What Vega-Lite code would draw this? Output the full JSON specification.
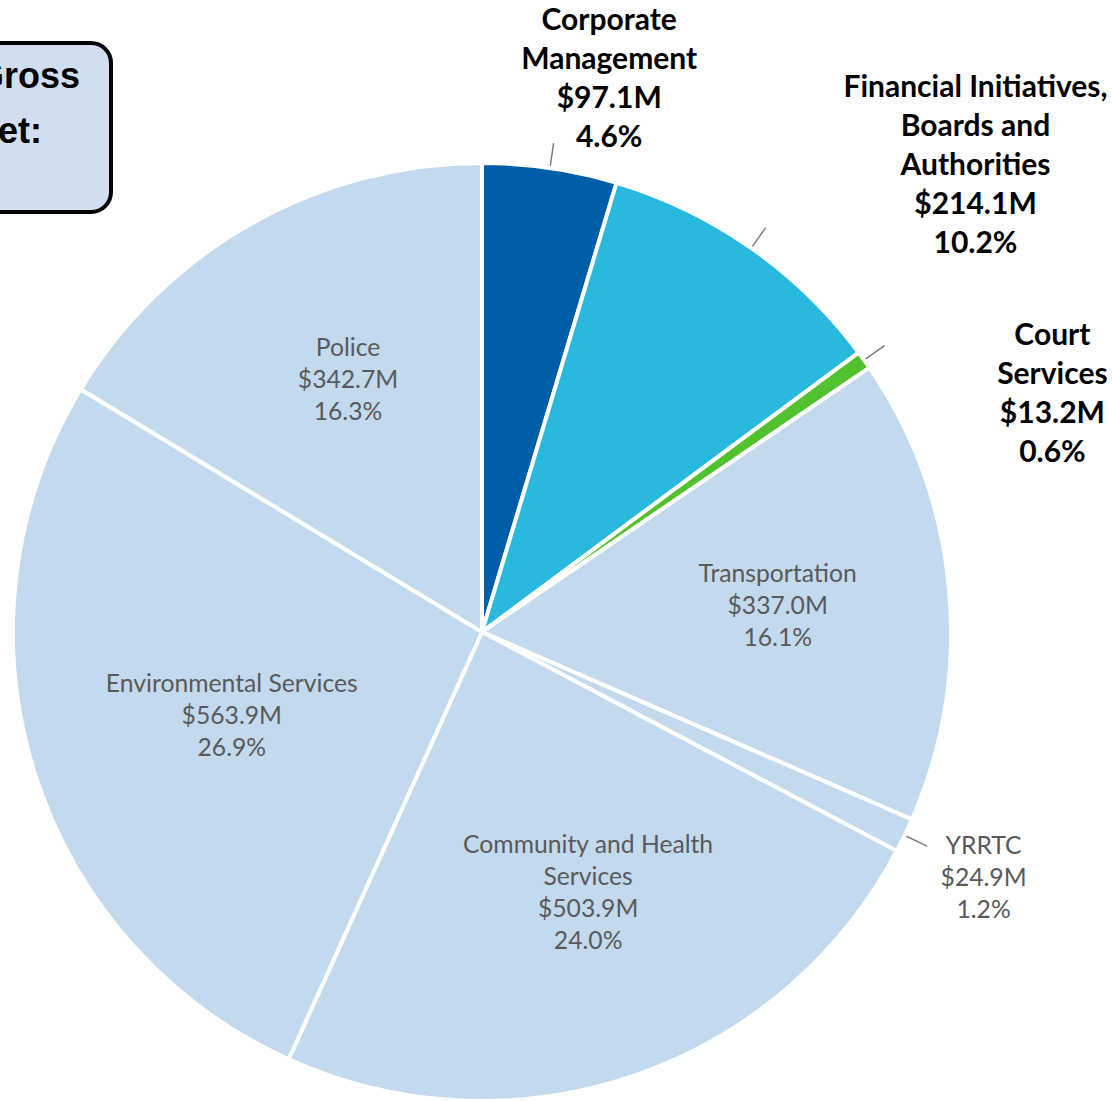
{
  "$schema": "https://vega.github.io/schema/vega-lite/v6.json",
  "width": 936,
  "height": 936,
  "autosize": {"type": "none"},
  "padding": {"left": 14, "top": 164, "right": 162, "bottom": 1},
  "background": "white",
  "config": {"view": {"stroke": null}, "legend": {"strokeWidth": 4}},
  "data": {
    "values": [
      {"idx": 1, "category": "Corporate Management", "amount": 97.1, "label": "Corporate\nManagement\n$97.1M\n4.6%"},
      {"idx": 2, "category": "Financial Initiatives, Boards and Authorities", "amount": 214.1, "label": "Financial Initiatives,\nBoards and\nAuthorities\n$214.1M\n10.2%"},
      {"idx": 3, "category": "Court Services", "amount": 13.2, "label": "Court\nServices\n$13.2M\n0.6%"},
      {"idx": 4, "category": "Transportation", "amount": 337.0, "label": "Transportation\n$337.0M\n16.1%"},
      {"idx": 5, "category": "YRRTC", "amount": 24.9, "label": "YRRTC\n$24.9M\n1.2%"},
      {"idx": 6, "category": "Community and Health Services", "amount": 503.9, "label": "Community and Health\nServices\n$503.9M\n24.0%"},
      {"idx": 7, "category": "Environmental Services", "amount": 563.9, "label": "Environmental Services\n$563.9M\n26.9%"},
      {"idx": 8, "category": "Police", "amount": 342.7, "label": "Police\n$342.7M\n16.3%"}
    ]
  },
  "encoding": {
    "theta": {"field": "amount", "type": "quantitative", "stack": true},
    "order": {"field": "idx", "type": "quantitative"}
  },
  "layer": [
    {
      "mark": {"type": "arc", "outerRadius": 469, "stroke": "white", "strokeWidth": 4},
      "encoding": {
        "color": {
          "field": "category",
          "type": "nominal",
          "scale": {
            "domain": ["Corporate Management", "Financial Initiatives, Boards and Authorities", "Court Services", "Transportation", "YRRTC", "Community and Health Services", "Environmental Services", "Police"],
            "range": ["#005DA8", "#29B9DE", "#51C22D", "#C3DAEE", "#C3DAEE", "#C3DAEE", "#C3DAEE", "#C3DAEE"]
          },
          "legend": {
            "values": [],
            "orient": "none",
            "legendX": -135,
            "legendY": -121,
            "title": ["2021 Gross\u00a0\u00a0\u200a\u200b", "\u200b\u00a0\u00a0Budget:", "\u200b"],
            "titleFont": "Liberation Sans",
            "titleFontSize": 36,
            "titleFontWeight": "bold",
            "titleColor": "black",
            "titleAlign": "left",
            "titleAnchor": "start",
            "titleBaseline": "line-top",
            "titleLineHeight": 55,
            "titleLimit": 2000,
            "titlePadding": 0,
            "padding": 7,
            "fillColor": "#D0DEEF",
            "strokeColor": "black",
            "cornerRadius": 20
          }
        }
      }
    },
    {
      "mark": {"type": "arc", "innerRadius": 471, "outerRadius": 494, "padAngle": 3.14, "filled": false, "stroke": "#7F7F7F", "strokeWidth": 1.5},
      "encoding": {
        "strokeOpacity": {"condition": {"test": "indexof(['Corporate Management', 'Financial Initiatives, Boards and Authorities', 'Court Services', 'YRRTC'], datum.category) >= 0", "value": 1}, "value": 0}
      }
    },
    {
      "mark": {"type": "text", "radius": 285, "dx": 6, "dy": -35, "font": "Lato", "fontSize": 24.7, "color": "#595959", "lineBreak": "\n", "lineHeight": 32, "align": "center", "baseline": "middle"},
      "encoding": {"text": {"condition": {"test": "datum.category === 'Police'", "field": "label"}, "value": ""}}
    },
    {
      "mark": {"type": "text", "radius": 297, "dx": 0, "dy": -29, "font": "Lato", "fontSize": 24.7, "color": "#595959", "lineBreak": "\n", "lineHeight": 32, "align": "center", "baseline": "middle"},
      "encoding": {"text": {"condition": {"test": "datum.category === 'Transportation'", "field": "label"}, "value": ""}}
    },
    {
      "mark": {"type": "text", "radius": 262, "dx": 0, "dy": -25, "font": "Lato", "fontSize": 24.7, "color": "#595959", "lineBreak": "\n", "lineHeight": 32, "align": "center", "baseline": "middle"},
      "encoding": {"text": {"condition": {"test": "datum.category === 'Environmental Services'", "field": "label"}, "value": ""}}
    },
    {
      "mark": {"type": "text", "radius": 275, "dx": 17, "dy": -46, "font": "Lato", "fontSize": 24.7, "color": "#595959", "lineBreak": "\n", "lineHeight": 32, "align": "center", "baseline": "middle"},
      "encoding": {"text": {"condition": {"test": "datum.category === 'Community and Health Services'", "field": "label"}, "value": ""}}
    },
    {
      "mark": {"type": "text", "radius": 520, "dx": 33, "dy": -10, "font": "Lato", "fontSize": 24.7, "color": "#595959", "lineBreak": "\n", "lineHeight": 32, "align": "center", "baseline": "middle"},
      "encoding": {"text": {"condition": {"test": "datum.category === 'YRRTC'", "field": "label"}, "value": ""}}
    },
    {
      "mark": {"type": "text", "radius": 560, "dx": 46, "dy": -57, "font": "Lato", "fontSize": 30, "fontWeight": "bold", "color": "black", "lineBreak": "\n", "lineHeight": 39, "align": "center", "baseline": "middle"},
      "encoding": {"text": {"condition": {"test": "datum.category === 'Corporate Management'", "field": "label"}, "value": ""}}
    },
    {
      "mark": {"type": "text", "radius": 572, "dx": 165, "dy": -76, "font": "Lato", "fontSize": 30, "fontWeight": "bold", "color": "black", "lineBreak": "\n", "lineHeight": 39, "align": "center", "baseline": "middle"},
      "encoding": {"text": {"condition": {"test": "datum.category === 'Financial Initiatives, Boards and Authorities'", "field": "label"}, "value": ""}}
    },
    {
      "mark": {"type": "text", "radius": 500, "dx": 163, "dy": -6, "font": "Lato", "fontSize": 30, "fontWeight": "bold", "color": "black", "lineBreak": "\n", "lineHeight": 39, "align": "center", "baseline": "middle"},
      "encoding": {"text": {"condition": {"test": "datum.category === 'Court Services'", "field": "label"}, "value": ""}}
    }
  ]
}
